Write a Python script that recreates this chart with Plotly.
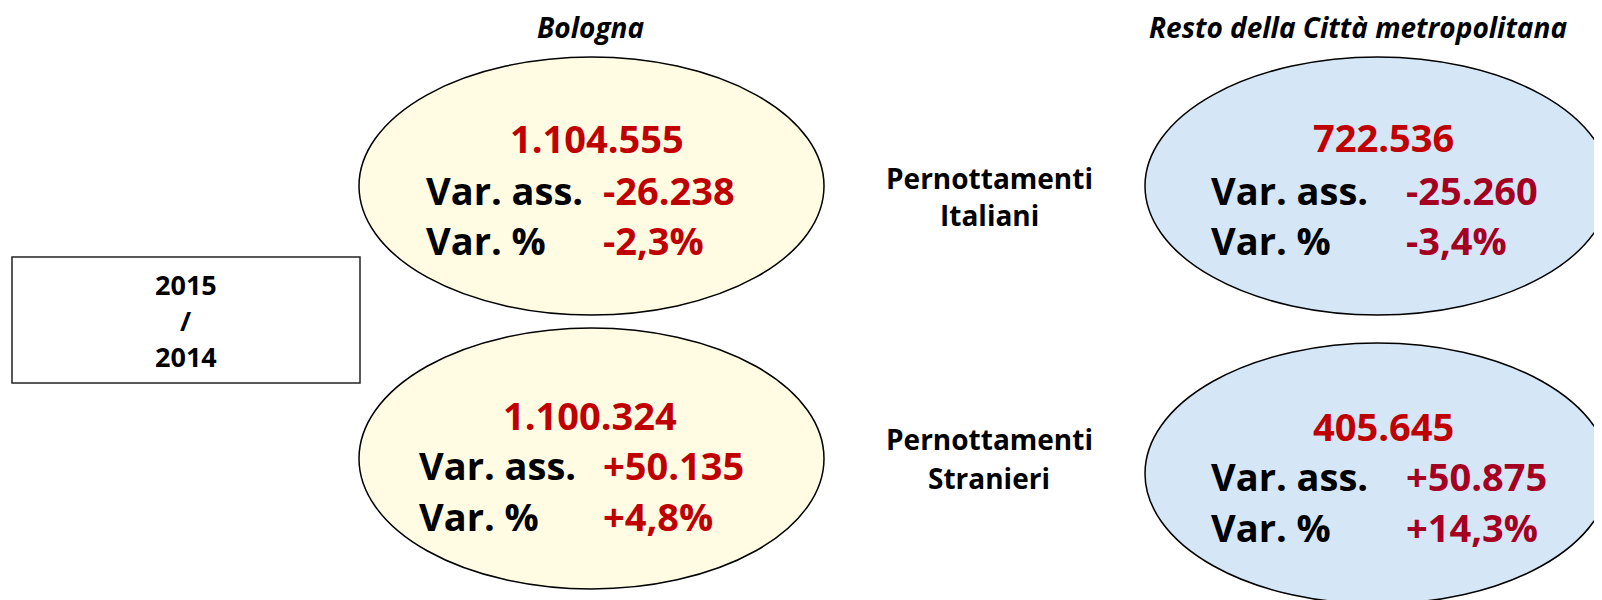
import plotly.graph_objects as go

# ---- data ----
areas = ["Bologna", "Resto della Città metropolitana"]
categories = [["Pernottamenti", "Italiani"], ["Pernottamenti", "Stranieri"]]
period_label = ["2015", "/", "2014"]
row_labels = ["Var. ass.", "Var. %"]

bologna_totale = [1104555, 1100324]
bologna_var_ass = [-26238, 50135]
bologna_var_pct = [-2.3, 4.8]

resto_totale = [722536, 405645]
resto_var_ass = [-25260, 50875]
resto_var_pct = [-3.4, 14.3]


def fmt_int(v):
    return f"{v:,}".replace(",", ".")


def fmt_signed(v):
    return f"{v:+,}".replace(",", ".")


def fmt_pct(v):
    return f"{v:+.1f}%".replace(".", ",")


FONT = "'Open Sans', 'Noto Sans', sans-serif"
RED = "#C00000"
CRIMSON = "#A50021"
BIG = 38
DY = 0
OFF = 8  # page body margin: map data coords to page pixels

fig = go.Figure()
fig.add_trace(go.Scatter(x=[OFF + 1], y=[OFF + 1], mode="markers", marker=dict(opacity=0),
                         hoverinfo="skip", showlegend=False))

ann = []
shapes = []

def txt(x, y, s, size, color="black", xanchor="center", italic=False, yanchor="middle"):
    t = f"<b>{s}</b>"
    if italic:
        t = f"<i>{t}</i>"
    ann.append(dict(x=x, y=y + DY, xref="x", yref="y", text=t, showarrow=False,
                    xanchor=xanchor, yanchor=yanchor, borderpad=0,
                    font=dict(family=FONT, size=size, color=color)))

# titles
txt(590, 27, areas[0], 28, italic=True)
txt(1358, 27, areas[1], 28, italic=True)

# period box
shapes.append(dict(type="rect", xref="x", yref="y", x0=12, x1=360, y0=257, y1=383,
                   line=dict(color="#222222", width=1.5), fillcolor="white"))
for i, s in enumerate(period_label):
    txt(186, 284 + i * 36, s, 27)

# ellipses
ell = [
    (359, 824, 57, 315, "#FFFCE3"),
    (359, 824, 328, 589, "#FFFCE3"),
    (1145, 1610, 57, 315, "#D5E6F6"),
    (1145, 1610, 343, 604, "#D5E6F6"),
]
for x0, x1, y0, y1, fc in ell:
    shapes.append(dict(type="circle", xref="x", yref="y", x0=x0, x1=x1, y0=y0, y1=y1,
                       line=dict(color="black", width=1.5), fillcolor=fc, layer="below"))

# Bologna column
b_rows = [(138, 190, 240), (415, 465, 516)]
for k in range(2):
    y0, y1, y2 = b_rows[k]
    txt(597 if k == 0 else 590, y0, fmt_int(bologna_totale[k]), BIG, RED)
    lx = 425 if k == 0 else 418
    vx = 602
    txt(lx, y1, row_labels[0], BIG, xanchor="left")
    txt(vx, y1, fmt_signed(bologna_var_ass[k]), BIG, RED, xanchor="left")
    txt(lx, y2, row_labels[1], BIG, xanchor="left")
    txt(vx, y2, fmt_pct(bologna_var_pct[k]), BIG, RED, xanchor="left")

# Resto column
r_rows = [(137, 190, 240), (426, 476, 527)]
for k in range(2):
    y0, y1, y2 = r_rows[k]
    txt(1383, y0, fmt_int(resto_totale[k]), BIG, RED)
    txt(1210, y1, row_labels[0], BIG, xanchor="left")
    txt(1405, y1, fmt_signed(resto_var_ass[k]), BIG, CRIMSON, xanchor="left")
    txt(1210, y2, row_labels[1], BIG, xanchor="left")
    txt(1405, y2, fmt_pct(resto_var_pct[k]), BIG, CRIMSON, xanchor="left")

# middle category labels
mid_rows = [(178, 215), (439, 478)]
for k in range(2):
    for j, line in enumerate(categories[k]):
        txt(989, mid_rows[k][j], line, 28)

fig.update_layout(
    width=1602, height=600,
    margin=dict(l=0, r=0, t=0, b=0),
    paper_bgcolor="white", plot_bgcolor="white",
    xaxis=dict(range=[OFF, 1602 + OFF], visible=False, fixedrange=True),
    yaxis=dict(range=[600 + OFF, OFF], visible=False, fixedrange=True),
    annotations=ann, shapes=shapes, showlegend=False,
)
fig.write_html("out.html")
